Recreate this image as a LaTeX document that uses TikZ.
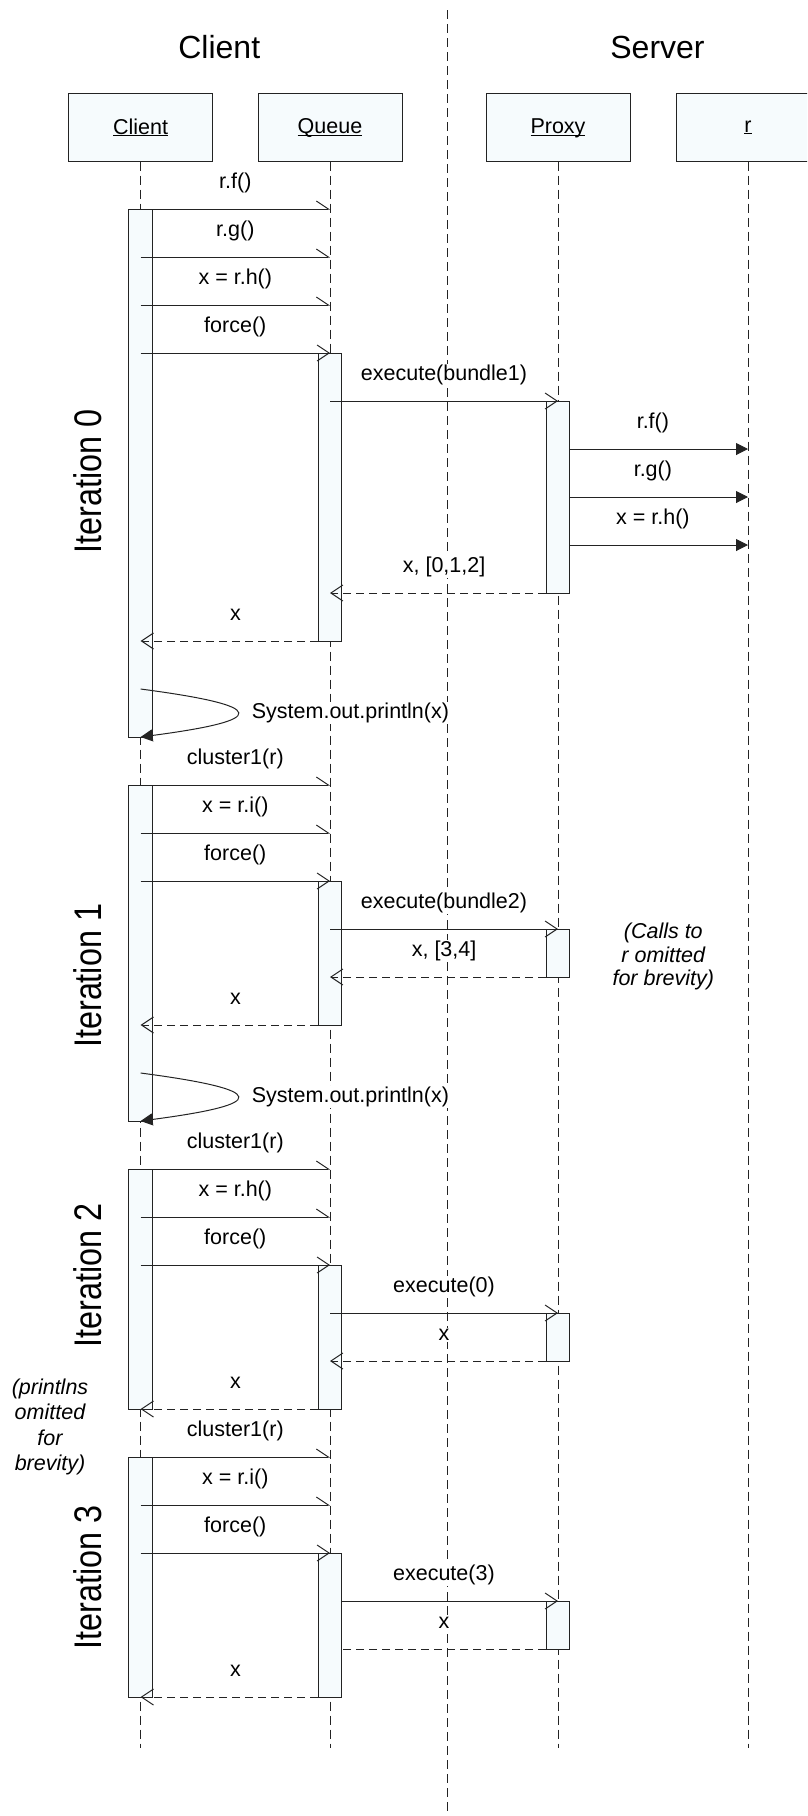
\documentclass[tikz,border=0pt]{standalone}
\usepackage{fontspec}
\setmainfont{Liberation Sans}
\newfontfamily\iterfont[FakeStretch=0.84]{Liberation Sans}
\usetikzlibrary{arrows.meta,calc,positioning}
\definecolor{pale}{RGB}{246,251,253}
\definecolor{ink}{RGB}{35,35,35}
\tikzset{obj/.style={draw=ink,fill=pale,minimum width=144pt,minimum height=67.4pt,inner sep=0pt,font=\fontsize{21.5}{26}\selectfont}}
\tikzstyle{life}=[draw=ink,dash pattern=on 9pt off 5pt]
\tikzstyle{bar}=[draw=ink,fill=pale]
\tikzstyle{lbl}=[fill=white,inner sep=1pt,anchor=base,yshift=20.5pt,font=\fontsize{21.5}{26}\selectfont]
\tikzstyle{call}=[draw=ink,-{Straight Barb[harpoon,length=12pt,width=16pt]}]
\tikzstyle{sync}=[draw=ink,-{Straight Barb[length=12pt,width=16pt]}]
\tikzstyle{ret}=[draw=ink,dash pattern=on 8pt off 5pt,-{Straight Barb[length=12pt,width=16pt]}]
\tikzstyle{fwd}=[draw=ink,-{Triangle[length=12pt,width=12pt]}]
\tikzstyle{note}=[align=center,inner sep=0pt]

\begin{document}
\begin{tikzpicture}[x=1pt,y=-1pt,line width=1pt]
\useasboundingbox (0,0) rectangle (807,1816);
\clip (0,0) rectangle (807,1816);

% sides
\node[anchor=base,font=\fontsize{32}{38}\selectfont] (clientside) at (219.3,58.3) {Client};
\node[anchor=base,font=\fontsize{32}{38}\selectfont] (serverside) at (657.5,58.3) {Server};
\coordinate (top) at (447,10);
\coordinate (foot) at (447,1816);
\draw[life] (top) -- (foot);

% objects
\node[obj] (Client) at (140.6,127.3) {\underline{\raisebox{0pt}[\height][0pt]{Client}}};
\node[obj,right=44.4pt of Client] (Queue) {\underline{\raisebox{0pt}[\height][0pt]{Queue}}};
\node[obj,right=83pt of Queue] (Proxy) {\underline{\raisebox{0pt}[\height][0pt]{Proxy}}};
\node[obj,right=45pt of Proxy] (r) {\underline{\raisebox{0pt}[\height][0pt]{r}}};

\coordinate (bottom) at (0,1748);
\foreach \n in {Client,Queue,Proxy,r}
  \draw[life] (\n.south) -- (\n |- bottom);

% message rows
\foreach \k in {0,...,31}
  \coordinate (m\k) at (0,{209+48*\k});

% activations
\foreach \who/\a/\b in {Client/0/11,Client/12/19,Client/20/25,Client/26/31,
    Queue/3/9,Queue/14/17,Queue/22/25,Queue/28/31,
    Proxy/4/8,Proxy/15/16,Proxy/23/24,Proxy/29/30}
  \draw[bar] ($(\who|-m\a)+(-11.8,0)$) rectangle ($(\who|-m\b)+(11.8,0)$);

% iteration 0
\draw[call] (Client|-m0) -- node[lbl] {r.f()} (Queue|-m0);
\draw[call] (Client|-m1) -- node[lbl] {r.g()} (Queue|-m1);
\draw[call] (Client|-m2) -- node[lbl] {x = r.h()} (Queue|-m2);
\draw[sync] (Client|-m3) -- node[lbl] {force()} (Queue|-m3);
\draw[sync] (Queue|-m4) -- node[lbl] {execute(bundle1)} (Proxy|-m4);
\draw[fwd] ($(Proxy|-m5)+(11.8,0)$) -- node[lbl,xshift=-6pt] {r.f()} (r|-m5);
\draw[fwd] ($(Proxy|-m6)+(11.8,0)$) -- node[lbl,xshift=-6pt] {r.g()} (r|-m6);
\draw[fwd] ($(Proxy|-m7)+(11.8,0)$) -- node[lbl,xshift=-6pt] {x = r.h()} (r|-m7);
\draw[ret] ($(Proxy|-m8)+(-11.8,0)$) -- node[lbl,xshift=6pt] {x, [0,1,2]} (Queue|-m8);
\draw[ret] ($(Queue|-m9)+(-11.8,0)$) -- node[lbl,xshift=6pt] {x} (Client|-m9);
\draw[fwd] (Client|-m10) .. controls +(129,17) and +(129,-17) .. (Client|-m11)
  node[pos=0.5,anchor=west,xshift=13pt,fill=white,inner sep=1pt,font=\fontsize{21.5}{26}\selectfont] {System.out.println(x)};

% iteration 1
\draw[call] (Client|-m12) -- node[lbl] {cluster1(r)} (Queue|-m12);
\draw[call] (Client|-m13) -- node[lbl] {x = r.i()} (Queue|-m13);
\draw[sync] (Client|-m14) -- node[lbl] {force()} (Queue|-m14);
\draw[sync] (Queue|-m15) -- node[lbl] {execute(bundle2)} (Proxy|-m15);
\draw[ret] ($(Proxy|-m16)+(-11.8,0)$) -- node[lbl,xshift=6pt] {x, [3,4]} (Queue|-m16);
\draw[ret] ($(Queue|-m17)+(-11.8,0)$) -- node[lbl,xshift=6pt] {x} (Client|-m17);
\draw[fwd] (Client|-m18) .. controls +(129,17) and +(129,-17) .. (Client|-m19)
  node[pos=0.5,anchor=west,xshift=13pt,fill=white,inner sep=1pt,font=\fontsize{21.5}{26}\selectfont] {System.out.println(x)};

% iteration 2
\draw[call] (Client|-m20) -- node[lbl] {cluster1(r)} (Queue|-m20);
\draw[call] (Client|-m21) -- node[lbl] {x = r.h()} (Queue|-m21);
\draw[sync] (Client|-m22) -- node[lbl] {force()} (Queue|-m22);
\draw[sync] (Queue|-m23) -- node[lbl] {execute(0)} (Proxy|-m23);
\draw[ret] ($(Proxy|-m24)+(-11.8,0)$) -- node[lbl,xshift=6pt] {x} (Queue|-m24);
\draw[ret] ($(Queue|-m25)+(-11.8,0)$) -- node[lbl,xshift=6pt] {x} (Client|-m25);

% iteration 3
\draw[call] (Client|-m26) -- node[lbl] {cluster1(r)} (Queue|-m26);
\draw[call] (Client|-m27) -- node[lbl] {x = r.i()} (Queue|-m27);
\draw[sync] (Client|-m28) -- node[lbl] {force()} (Queue|-m28);
\draw[sync] ($(Queue|-m29)+(11.8,0)$) -- node[lbl,xshift=-6pt] {execute(3)} (Proxy|-m29);
\draw[draw=ink,dash pattern=on 8pt off 5pt] ($(Proxy|-m30)+(-11.8,0)$) -- node[lbl] {x} ($(Queue|-m30)+(11.8,0)$);
\draw[ret] ($(Queue|-m31)+(-11.8,0)$) -- node[lbl,xshift=6pt] {x} (Client|-m31);

% iterations and notes
\node[rotate=90,inner sep=0pt,font=\iterfont\fontsize{38.5}{40}\selectfont] (it0) at (87.9,481.7) {Iteration 0};
\node[rotate=90,inner sep=0pt,font=\iterfont\fontsize{38.5}{40}\selectfont] (it1) at (87.9,975.8) {Iteration 1};
\node[rotate=90,inner sep=0pt,font=\iterfont\fontsize{38.5}{40}\selectfont] (it2) at (87.9,1275.2) {Iteration 2};
\node[rotate=90,inner sep=0pt,font=\iterfont\fontsize{38.5}{40}\selectfont] (it3) at (87.9,1577.6) {Iteration 3};
\node[note,font=\itshape\fontsize{21.5}{23.3}\selectfont] (callsnote) at (663.3,956.7) {(Calls to\\r omitted\\for brevity)};
\node[note,font=\itshape\fontsize{21.5}{25.5}\selectfont] (printnote) at (50,1426.9) {(printlns\\omitted\\for\\brevity)};
\end{tikzpicture}
\end{document}
